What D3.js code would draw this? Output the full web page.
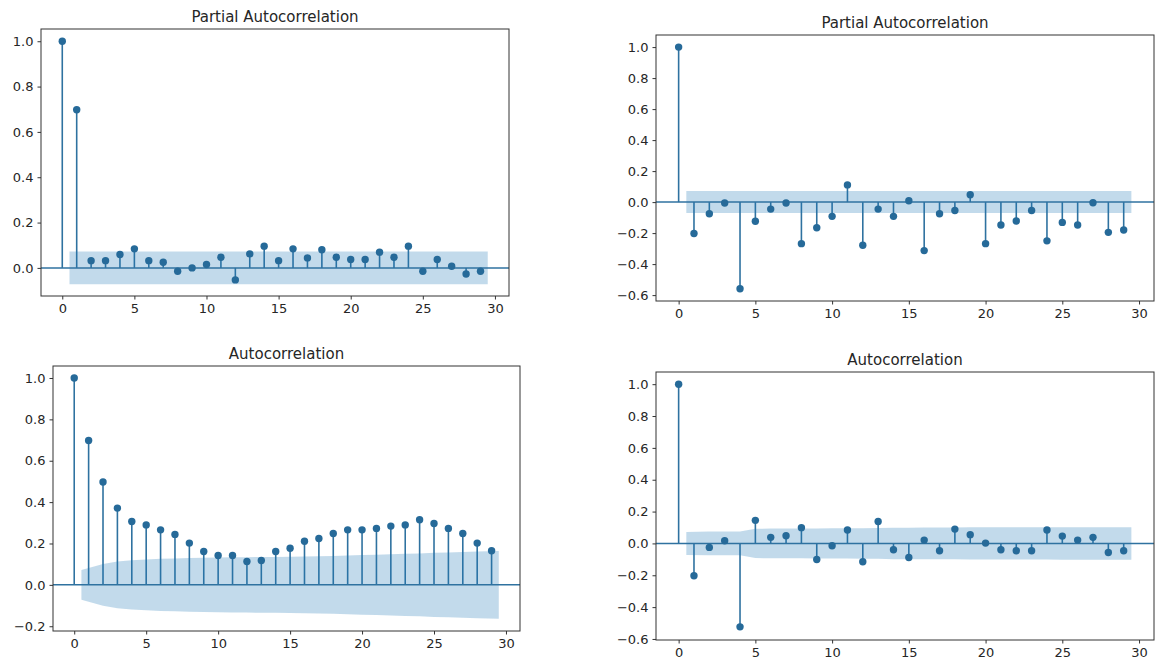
<!DOCTYPE html>
<html lang="en">

<head>
    <meta charset="UTF-8">
    <title>ACF / PACF</title>
    <script src="https://d3js.org/d3.v7.min.js"></script>
    <style>
        body { margin: 0; background: #fff; }
        text { font-family: "DejaVu Sans", sans-serif; fill: #262626; }
    </style>
</head>

<body>
    <script>
        // lags shown on every panel
        var lags = [0, 1, 2, 3, 4, 5, 6, 7, 8, 9, 10, 11, 12, 13, 14, 15, 16, 17, 18, 19, 20, 21, 22, 23, 24, 25, 26, 27, 28, 29];
        var xTicks = [0, 5, 10, 15, 20, 25, 30];

        // top left: partial autocorrelation
        var pacfLeft = [1.0, 0.698, 0.032, 0.032, 0.059, 0.084, 0.032, 0.025, -0.015, 0.0, 0.015, 0.047, -0.053, 0.062, 0.096,
            0.032, 0.084, 0.044, 0.080, 0.047, 0.037, 0.037, 0.069, 0.047, 0.096, -0.015, 0.037, 0.007, -0.027, -0.015];
        var pacfLeftBand = [0.072, 0.072, 0.072, 0.072, 0.072, 0.072, 0.072, 0.072, 0.072, 0.072, 0.072, 0.072, 0.072, 0.072, 0.072,
            0.072, 0.072, 0.072, 0.072, 0.072, 0.072, 0.072, 0.072, 0.072, 0.072, 0.072, 0.072, 0.072, 0.072];
        var pacfLeftTicks = [0.0, 0.2, 0.4, 0.6, 0.8, 1.0];

        // top right: partial autocorrelation
        var pacfRight = [1.0, -0.203, -0.075, -0.006, -0.559, -0.124, -0.045, -0.006, -0.268, -0.165, -0.092, 0.111, -0.278, -0.045, -0.092,
            0.009, -0.313, -0.075, -0.054, 0.047, -0.268, -0.148, -0.122, -0.054, -0.250, -0.131, -0.148, -0.004, -0.195, -0.180];
        var pacfRightBand = [0.071, 0.071, 0.071, 0.071, 0.071, 0.071, 0.071, 0.071, 0.071, 0.071, 0.071, 0.071, 0.071, 0.071, 0.071,
            0.071, 0.071, 0.071, 0.071, 0.071, 0.071, 0.071, 0.071, 0.071, 0.071, 0.071, 0.071, 0.071, 0.071];
        var pacfRightTicks = [-0.6, -0.4, -0.2, 0.0, 0.2, 0.4, 0.6, 0.8, 1.0];

        // bottom left: autocorrelation
        var acfLeft = [1.0, 0.698, 0.497, 0.371, 0.306, 0.290, 0.266, 0.244, 0.202, 0.161, 0.142, 0.142, 0.113, 0.118, 0.161,
            0.177, 0.211, 0.224, 0.248, 0.266, 0.266, 0.273, 0.284, 0.290, 0.315, 0.297, 0.273, 0.248, 0.202, 0.165];
        var acfLeftBand = [0.072, 0.101, 0.113, 0.119, 0.123, 0.126, 0.128, 0.130, 0.131, 0.132, 0.133, 0.134, 0.135, 0.135,
            0.136, 0.137, 0.138, 0.140, 0.142, 0.144, 0.146, 0.148, 0.150, 0.152, 0.155, 0.157, 0.159, 0.161, 0.164];
        var acfLeftTicks = [-0.2, 0.0, 0.2, 0.4, 0.6, 0.8, 1.0];

        // bottom right: autocorrelation
        var acfRight = [1.0, -0.203, -0.025, 0.017, -0.524, 0.145, 0.038, 0.048, 0.099, -0.101, -0.015, 0.084, -0.115, 0.138, -0.040,
            -0.088, 0.021, -0.046, 0.090, 0.055, 0.002, -0.040, -0.046, -0.046, 0.084, 0.046, 0.021, 0.038, -0.057, -0.046];
        var acfRightBand = [0.072, 0.075, 0.075, 0.075, 0.092, 0.093, 0.093, 0.093, 0.094, 0.095, 0.095, 0.096, 0.097, 0.099,
            0.099, 0.100, 0.100, 0.100, 0.101, 0.101, 0.101, 0.101, 0.101, 0.101, 0.102, 0.102, 0.102, 0.102, 0.102];
        var acfRightTicks = [-0.6, -0.4, -0.2, 0.0, 0.2, 0.4, 0.6, 0.8, 1.0];

        var width = 1157;
        var height = 660;
        var stemColor = "#2f72a0";
        var dotColor = "#266a99";

        var panels = [
            { title: "Partial Autocorrelation", values: pacfLeft, band: pacfLeftBand, yTicks: pacfLeftTicks,
              left: 41, right: 509, top: 29, bottom: 296, yMin: -0.124, yMax: 1.054 },
            { title: "Partial Autocorrelation", values: pacfRight, band: pacfRightBand, yTicks: pacfRightTicks,
              left: 656, right: 1154, top: 35, bottom: 301, yMin: -0.638, yMax: 1.078 },
            { title: "Autocorrelation", values: acfLeft, band: acfLeftBand, yTicks: acfLeftTicks,
              left: 53, right: 520, top: 366, bottom: 631, yMin: -0.223, yMax: 1.058 },
            { title: "Autocorrelation", values: acfRight, band: acfRightBand, yTicks: acfRightTicks,
              left: 656, right: 1154, top: 372, bottom: 640, yMin: -0.6065, yMax: 1.0765 }
        ];

        var svg = d3.select("body")
            .append("svg")
            .attr("width", width)
            .attr("height", height);

        var fmt = d3.format(".1f");

        panels.forEach(function (p, k) {
            var x = d3.scaleLinear().domain([-1.475, 30.975]).range([p.left, p.right]);
            var y = d3.scaleLinear().domain([p.yMin, p.yMax]).range([p.bottom, p.top]);
            var g = svg.append("g");

            g.append("clipPath").attr("id", "clip" + k)
                .append("rect")
                .attr("x", p.left).attr("y", p.top)
                .attr("width", p.right - p.left).attr("height", p.bottom - p.top);

            var plot = g.append("g").attr("clip-path", "url(#clip" + k + ")");

            // stems
            plot.selectAll("line.stem")
                .data(lags)
                .enter()
                .append("line")
                .attr("class", "stem")
                .attr("x1", function (d) { return x(d); })
                .attr("x2", function (d) { return x(d); })
                .attr("y1", y(0))
                .attr("y2", function (d) { return y(p.values[d]); })
                .style("stroke", stemColor)
                .style("stroke-width", 1.6);

            // confidence band, lags 1..29 with the ends pushed out by half a lag
            var bandLags = lags.slice(1).map(function (d, i, arr) {
                if (i === 0) return d - 0.5;
                if (i === arr.length - 1) return d + 0.5;
                return d;
            });
            var area = d3.area()
                .x(function (d, i) { return x(bandLags[i]); })
                .y0(function (d) { return y(-d); })
                .y1(function (d) { return y(d); });
            plot.append("path")
                .datum(p.band)
                .attr("d", area)
                .style("fill", "#1f77b4")
                .style("opacity", 0.27);

            // zero line
            plot.append("line")
                .attr("x1", p.left).attr("x2", p.right)
                .attr("y1", y(0)).attr("y2", y(0))
                .style("stroke", stemColor)
                .style("stroke-width", 1.5);

            // markers
            plot.selectAll("circle.dot")
                .data(lags)
                .enter()
                .append("circle")
                .attr("class", "dot")
                .attr("cx", function (d) { return x(d); })
                .attr("cy", function (d) { return y(p.values[d]); })
                .attr("r", 3.7)
                .style("fill", dotColor);

            // axes
            var xAxis = g.append("g")
                .attr("transform", "translate(0," + p.bottom + ")")
                .call(d3.axisBottom(x).tickValues(xTicks).tickSize(3.5).tickPadding(4));
            var yAxis = g.append("g")
                .attr("transform", "translate(" + p.left + ",0)")
                .call(d3.axisLeft(y).tickValues(p.yTicks).tickFormat(fmt).tickSize(3.5).tickPadding(4));
            [xAxis, yAxis].forEach(function (a) {
                a.select(".domain").remove();
                a.selectAll(".tick line").style("stroke", "#333");
                a.selectAll("text").style("font-size", "13px").style("fill", "#262626")
                    .style("font-family", "'DejaVu Sans', sans-serif");
            });

            // frame
            g.append("rect")
                .attr("x", p.left).attr("y", p.top)
                .attr("width", p.right - p.left).attr("height", p.bottom - p.top)
                .style("fill", "none")
                .style("stroke", "#333")
                .style("stroke-width", 1);

            g.append("text")
                .attr("x", (p.left + p.right) / 2)
                .attr("y", p.top - 7)
                .attr("text-anchor", "middle")
                .style("font-size", "15px")
                .text(p.title);
        });
    </script>
</body>

</html>
